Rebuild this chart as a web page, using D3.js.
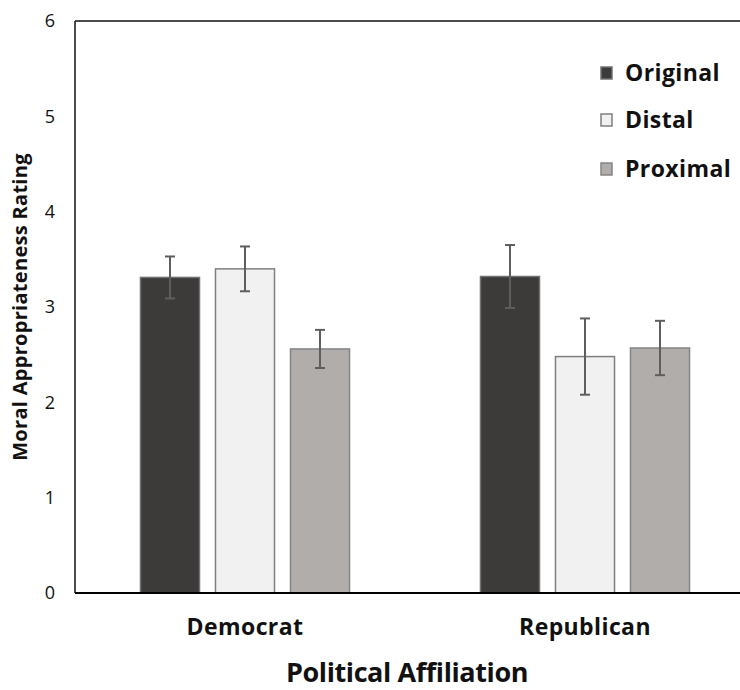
<!DOCTYPE html>
<html>
<head>
<meta charset="utf-8">
<script src="https://cdn.jsdelivr.net/npm/d3@7"></script>
<style>
  body { margin: 0; background: #fff; }
  svg { display: block; }
</style>
</head>
<body>
<div id="chart"></div>
<script>
// Moral appropriateness by political affiliation

const groups = ['Democrat', 'Republican']
const seriesNames = ['Original', 'Distal', 'Proximal']
const originalMeans = [3.31, 3.32]
const distalMeans = [3.40, 2.48]
const proximalMeans = [2.56, 2.57]
const originalErr = [0.22, 0.33]
const distalErr = [0.235, 0.40]
const proximalErr = [0.20, 0.285]
const yTicks = [0, 1, 2, 3, 4, 5, 6]

const width = 740
const height = 690
const margin = { top: 21, left: 75, bottom: 97 }
const plotWidth = 680 // the original frame runs past the right edge
const plotBottom = height - margin.bottom
const boldFont = 'Open Sans, sans-serif'

const colors = {
  Original: { fill: '#3c3b39', stroke: '#717171' },
  Distal: { fill: '#f1f1f1', stroke: '#7f7f7f' },
  Proximal: { fill: '#b0adab', stroke: '#858585' }
}

const rows = []
groups.forEach((g, i) => {
  rows.push({ group: g, series: 'Original', value: originalMeans[i], err: originalErr[i] })
  rows.push({ group: g, series: 'Distal', value: distalMeans[i], err: distalErr[i] })
  rows.push({ group: g, series: 'Proximal', value: proximalMeans[i], err: proximalErr[i] })
})

const svg = d3.select('#chart').append('svg')
  .attr('width', width)
  .attr('height', height)

const x0 = d3.scaleBand()
  .domain(groups)
  .range([margin.left, margin.left + plotWidth])

const x1 = d3.scaleBand()
  .domain(seriesNames)
  .range([0, x0.bandwidth()])
  .paddingInner(0.213)
  .paddingOuter(0.873)

const y = d3.scaleLinear()
  .domain([0, 6])
  .range([plotBottom, margin.top])

// Bars
svg.append('g').selectAll('rect')
  .data(rows)
  .join('rect')
  .attr('x', d => x0(d.group) + x1(d.series))
  .attr('y', d => y(d.value))
  .attr('width', x1.bandwidth())
  .attr('height', d => plotBottom - y(d.value))
  .attr('fill', d => colors[d.series].fill)
  .attr('stroke', d => colors[d.series].stroke)
  .attr('stroke-width', 1.5)

// Error bars
const errG = svg.append('g')
  .attr('stroke', '#5e5e5e')
  .attr('stroke-width', 2)

rows.forEach(d => {
  const cx = x0(d.group) + x1(d.series) + x1.bandwidth() / 2
  const top = y(d.value + d.err)
  const bot = y(d.value - d.err)
  errG.append('line').attr('x1', cx).attr('x2', cx).attr('y1', top).attr('y2', bot)
  errG.append('line').attr('x1', cx - 5).attr('x2', cx + 5).attr('y1', top).attr('y2', top)
  errG.append('line').attr('x1', cx - 5).attr('x2', cx + 5).attr('y1', bot).attr('y2', bot)
})

// Frame
svg.append('line')
  .attr('x1', margin.left).attr('x2', width)
  .attr('y1', margin.top).attr('y2', margin.top)
  .attr('stroke', '#111').attr('stroke-width', 1.5)
svg.append('line')
  .attr('x1', margin.left).attr('x2', margin.left)
  .attr('y1', margin.top).attr('y2', plotBottom)
  .attr('stroke', '#111').attr('stroke-width', 1.5)

// Y axis labels
const yAxis = svg.append('g')
  .attr('transform', `translate(${margin.left},0)`)
  .call(d3.axisLeft(y).tickValues(yTicks).tickSize(0).tickPadding(20).tickFormat(d3.format('d')))
yAxis.select('.domain').remove()
yAxis.selectAll('text')
  .attr('font-family', 'Open Sans, sans-serif')
  .attr('font-size', 18)
  .attr('fill', '#111')

// X axis
const xAxis = svg.append('g')
  .attr('transform', `translate(0,${plotBottom})`)
  .call(d3.axisBottom(x0).tickSize(0).tickPadding(26))
xAxis.select('.domain')
  .attr('stroke', '#000')
  .attr('stroke-width', 2.2)
  .attr('d', `M${margin.left},0H${width}`)
xAxis.selectAll('text')
  .attr('font-family', boldFont)
  .attr('font-weight', 700)
  .attr('font-size', 23)
  .attr('letter-spacing', 0.4)
  .attr('fill', '#111')

// Axis titles
svg.append('text')
  .attr('x', 407)
  .attr('y', 682)
  .attr('text-anchor', 'middle')
  .attr('font-family', boldFont)
  .attr('font-weight', 700)
  .attr('font-size', 27)
  .attr('letter-spacing', -0.4)
  .attr('fill', '#111')
  .text('Political Affiliation')

svg.append('text')
  .attr('transform', 'translate(27,307) rotate(-90)')
  .attr('text-anchor', 'middle')
  .attr('font-family', boldFont)
  .attr('font-weight', 700)
  .attr('font-size', 20)
  .attr('letter-spacing', 0.3)
  .attr('fill', '#111')
  .text('Moral Appropriateness Rating')

// Legend
const legendY = [73, 120, 169]
const legend = svg.append('g')
seriesNames.forEach((s, i) => {
  const g = legend.append('g').attr('transform', `translate(601,${legendY[i]})`)
  g.append('rect')
    .attr('x', 0).attr('y', -6)
    .attr('width', 11).attr('height', 12)
    .attr('fill', colors[s].fill)
    .attr('stroke', colors[s].stroke)
    .attr('stroke-width', 1.5)
  g.append('text')
    .attr('x', 24)
    .attr('y', 8)
    .attr('font-family', boldFont)
    .attr('font-weight', 700)
    .attr('font-size', 23)
    .attr('letter-spacing', 0.4)
    .attr('fill', '#111')
    .text(s)
})
</script>
</body>
</html>
